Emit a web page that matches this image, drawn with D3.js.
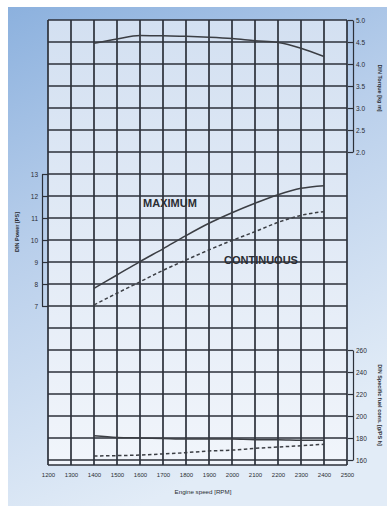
<!DOCTYPE html>
<html>
<head>
<meta charset="utf-8">
<script src="https://cdn.jsdelivr.net/npm/d3@7/dist/d3.min.js"></script>
<style>
  html, body { margin: 0; padding: 0; background: #ffffff; }
  svg { display: block; }
  text { font-family: "Liberation Sans", Arial, sans-serif; fill: #2a2d33; }
</style>
</head>
<body>
<svg id="chart" width="387" height="506"></svg>
<script>
// Engine speed (rpm) for all curves
const rpm = [1400, 1500, 1600, 1700, 1800, 1900, 2000, 2100, 2200, 2300, 2400];

// DIN torque [kg m]
const torque = [4.47, 4.57, 4.65, 4.64, 4.63, 4.61, 4.58, 4.53, 4.49, 4.36, 4.17];

// DIN power [PS]
const powerMax = [7.8, 8.41, 9.02, 9.6, 10.2, 10.76, 11.24, 11.67, 12.06, 12.35, 12.47];
const powerCont = [7.05, 7.58, 8.1, 8.62, 9.09, 9.55, 9.98, 10.38, 10.8, 11.12, 11.29];

// DIN specific fuel consumption [g/PS h]
const fuelMax = [182, 180.5, 180, 179.5, 179, 179, 179, 178.5, 178.5, 178, 178];
const fuelCont = [163.6, 164, 164.5, 165.5, 166.7, 168.2, 169, 170.6, 171.8, 173, 174.3];

// Tick values
const rpmTicks = [1200, 1300, 1400, 1500, 1600, 1700, 1800, 1900, 2000, 2100, 2200, 2300, 2400, 2500];
const torqueTicks = [2.0, 2.5, 3.0, 3.5, 4.0, 4.5, 5.0];
const powerTicks = [7, 8, 9, 10, 11, 12, 13];
const fuelTicks = [160, 180, 200, 220, 240, 260];

const svg = d3.select("#chart");
const defs = svg.append("defs");

// Background panel gradient
const bg = defs.append("linearGradient").attr("id", "panelGrad")
  .attr("x1", "0").attr("y1", "0").attr("x2", "0.35").attr("y2", "1");
bg.append("stop").attr("offset", "0").attr("stop-color", "#8cb1de");
bg.append("stop").attr("offset", "0.45").attr("stop-color", "#b9cfeb");
bg.append("stop").attr("offset", "1").attr("stop-color", "#e2ecf7");

// Plot area gradient
const pg = defs.append("linearGradient").attr("id", "plotGrad")
  .attr("x1", "0").attr("y1", "0").attr("x2", "0").attr("y2", "1");
pg.append("stop").attr("offset", "0").attr("stop-color", "#d3e0f1");
pg.append("stop").attr("offset", "1").attr("stop-color", "#f1f5fb");

svg.append("rect").attr("x", 8).attr("y", 7).attr("width", 379).attr("height", 499)
  .attr("fill", "url(#panelGrad)");

// Scales
const x = d3.scaleLinear().domain([1200, 2500]).range([48, 347]);
const yTorque = d3.scaleLinear().domain([2, 5]).range([152, 20]);
const yPower = d3.scaleLinear().domain([7, 13]).range([306, 174]);
const yFuel = d3.scaleLinear().domain([160, 260]).range([460, 350]);
const gridRows = d3.range(0, 21);
const yRow = d3.scaleLinear().domain([0, 20]).range([20, 460]);
const plotBottom = 465;

// Plot background
svg.append("rect").attr("x", x(1200)).attr("y", yRow(0))
  .attr("width", x(2500) - x(1200)).attr("height", plotBottom - yRow(0))
  .attr("fill", "url(#plotGrad)");

// Grid
const grid = svg.append("g").attr("stroke", "#2c313a").attr("stroke-width", 1.7);
grid.selectAll("line.v").data(rpmTicks).join("line")
  .attr("x1", d => x(d)).attr("x2", d => x(d))
  .attr("y1", yRow(0)).attr("y2", plotBottom);
grid.selectAll("line.h").data(gridRows).join("line")
  .attr("x1", x(1200)).attr("x2", x(2500))
  .attr("y1", d => yRow(d)).attr("y2", d => yRow(d));
grid.append("line").attr("x1", x(1200)).attr("x2", x(2500))
  .attr("y1", plotBottom).attr("y2", plotBottom);

// Curves
const curveG = svg.append("g").attr("fill", "none").attr("stroke", "#3b3e44")
  .attr("stroke-width", 1.5);
function drawCurve(vals, yScale, dashed) {
  const line = d3.line().x((d, i) => x(rpm[i])).y(d => yScale(d)).curve(d3.curveMonotoneX);
  curveG.append("path").attr("d", line(vals))
    .attr("stroke-dasharray", dashed ? "3.5,2.5" : null);
}
drawCurve(torque, yTorque, false);
drawCurve(powerMax, yPower, false);
drawCurve(powerCont, yPower, true);
drawCurve(fuelMax, yFuel, false);
drawCurve(fuelCont, yFuel, true);

// Curve labels
svg.append("text").attr("x", 170).attr("y", 207).attr("text-anchor", "middle")
  .attr("font-size", 11).attr("font-weight", "bold").attr("fill", "#33363c").text("MAXIMUM");
svg.append("text").attr("x", 261).attr("y", 264).attr("text-anchor", "middle")
  .attr("font-size", 11).attr("font-weight", "bold").attr("fill", "#33363c").text("CONTINUOUS");

// Axes
function styleAxis(g, fs) {
  g.selectAll("path.domain").attr("stroke", "#2c313a").attr("stroke-width", 1.2);
  g.selectAll(".tick line").attr("stroke", "#2c313a").attr("stroke-width", 1.2);
  g.selectAll(".tick text").attr("font-size", fs).attr("fill", "#2a2d33")
    .attr("font-family", "Liberation Sans, Arial, sans-serif");
}

const axTorque = svg.append("g").attr("transform", `translate(353,0)`)
  .call(d3.axisRight(yTorque).tickValues(torqueTicks).tickFormat(d3.format(".1f"))
    .tickSizeInner(-5).tickSizeOuter(0).tickPadding(3));
styleAxis(axTorque, 6.5);

const axPower = svg.append("g").attr("transform", `translate(42,0)`)
  .call(d3.axisLeft(yPower).tickValues(powerTicks).tickFormat(d3.format("d"))
    .tickSizeInner(-6).tickSizeOuter(0).tickPadding(4));
styleAxis(axPower, 6.5);

const axFuel = svg.append("g").attr("transform", `translate(353,0)`)
  .call(d3.axisRight(yFuel).tickValues(fuelTicks).tickFormat(d3.format("d"))
    .tickSizeInner(-5).tickSizeOuter(0).tickPadding(3));
styleAxis(axFuel, 6.5);

const axX = svg.append("g").attr("transform", `translate(0,${plotBottom})`)
  .call(d3.axisBottom(x).tickValues(rpmTicks).tickFormat(d3.format("d"))
    .tickSize(0).tickPadding(8));
axX.select("path.domain").remove();
styleAxis(axX, 6);

// Axis titles
svg.append("text").attr("transform", "translate(19,232) rotate(-90)")
  .attr("text-anchor", "middle").attr("font-size", 5.5).attr("font-weight", "bold")
  .text("DIN Power [PS]");
svg.append("text").attr("transform", "translate(378,88) rotate(90)")
  .attr("text-anchor", "middle").attr("font-size", 5.5).attr("font-weight", "bold")
  .text("DIN Torque [kg m]");
svg.append("text").attr("transform", "translate(378,405) rotate(90)")
  .attr("text-anchor", "middle").attr("font-size", 5.5).attr("font-weight", "bold")
  .text("DIN Specific fuel cons. [g/PS h]");
svg.append("text").attr("x", 203).attr("y", 494).attr("text-anchor", "middle")
  .attr("font-size", 6.2).text("Engine speed [RPM]");
</script>
</body>
</html>
